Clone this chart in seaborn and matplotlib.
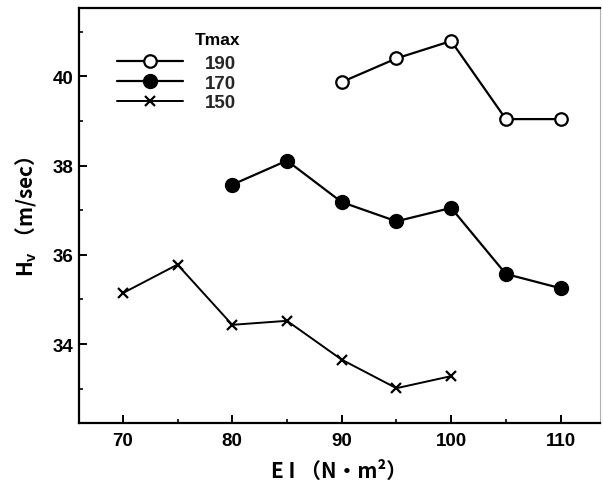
import matplotlib
matplotlib.use("Agg")
import matplotlib.pyplot as plt
import seaborn as sns
from matplotlib.ticker import MultipleLocator

# ---- data ----
ei_190 = [90, 95, 100, 105, 110]
hv_190 = [39.87, 40.40, 40.79, 39.04, 39.04]

ei_170 = [80, 85, 90, 95, 100, 105, 110]
hv_170 = [37.57, 38.11, 37.18, 36.75, 37.05, 35.57, 35.25]

ei_150 = [70, 75, 80, 85, 90, 95, 100]
hv_150 = [35.14, 35.78, 34.43, 34.52, 33.65, 33.01, 33.28]

series_labels = ["190", "170", "150"]
legend_title = "Tmax"
x_label = "E I （N・m²）"
y_label = r"H$_\mathbf{v}$ （m/sec）"

sns.set_theme(style="ticks")
plt.rcParams["font.family"] = ["Liberation Sans", "DejaVu Sans"]
plt.rcParams["mathtext.fontset"] = "custom"
plt.rcParams["mathtext.rm"] = "Liberation Sans:bold"
plt.rcParams["mathtext.bf"] = "Liberation Sans:bold"

fig = plt.figure(figsize=(6.03, 4.85), dpi=100)
ax = fig.add_axes([79 / 603, 1 - 424 / 485, (600 - 79) / 603, (424 - 9) / 485])

sns.lineplot(x=ei_190, y=hv_190, ax=ax, color="black", linewidth=1.6,
             marker="o", markersize=9, markerfacecolor="white",
             markeredgecolor="black", markeredgewidth=1.6, label=series_labels[0])
sns.lineplot(x=ei_170, y=hv_170, ax=ax, color="black", linewidth=1.6,
             marker="o", markersize=10, markerfacecolor="black",
             markeredgecolor="black", markeredgewidth=1.0, label=series_labels[1])
sns.lineplot(x=ei_150, y=hv_150, ax=ax, color="black", linewidth=1.4,
             marker="x", markersize=7.5, markeredgecolor="black",
             markeredgewidth=1.6, label=series_labels[2])

ax.set_xlim(66.0, 113.6)
ax.set_ylim(32.23, 41.53)
ax.xaxis.set_major_locator(MultipleLocator(10))
ax.xaxis.set_minor_locator(MultipleLocator(5))
ax.yaxis.set_major_locator(MultipleLocator(2))
ax.yaxis.set_minor_locator(MultipleLocator(1))

ax.tick_params(axis="both", which="major", direction="in", length=6, width=1.4,
               color="black", labelsize=13.5, labelcolor="black")
ax.tick_params(axis="both", which="minor", direction="in", length=3, width=1.2,
               color="black")
ax.tick_params(axis="x", which="major", pad=6.5)
ax.tick_params(axis="y", which="major", pad=4)
for lab in ax.get_xticklabels() + ax.get_yticklabels():
    lab.set_fontweight("bold")

for side in ["left", "bottom", "top"]:
    ax.spines[side].set_linewidth(1.6)
    ax.spines[side].set_color("black")
ax.spines["right"].set_linewidth(0.8)
ax.spines["right"].set_color("#b0b0b0")

ax.set_xlabel(x_label, fontsize=15, fontweight="bold",
              family=["Noto Sans CJK JP", "DejaVu Sans"], labelpad=8, color="black")
ax.set_ylabel(y_label, fontsize=15, fontweight="bold",
              family=["Noto Sans CJK JP", "DejaVu Sans"], labelpad=10, color="black")

leg = ax.legend(loc="upper left", bbox_to_anchor=(0.073, 0.888), frameon=False,
                handlelength=3.5, handletextpad=1.2, labelspacing=0.15,
                borderpad=0, borderaxespad=0,
                prop={"family": "Liberation Sans", "weight": "bold", "size": 13.5})
ax.text(0.265, 0.925, legend_title, transform=ax.transAxes, ha="center", va="center",
        fontsize=12.5, fontweight="bold", color="black")

fig.savefig("out.png", dpi=100, facecolor="white")
